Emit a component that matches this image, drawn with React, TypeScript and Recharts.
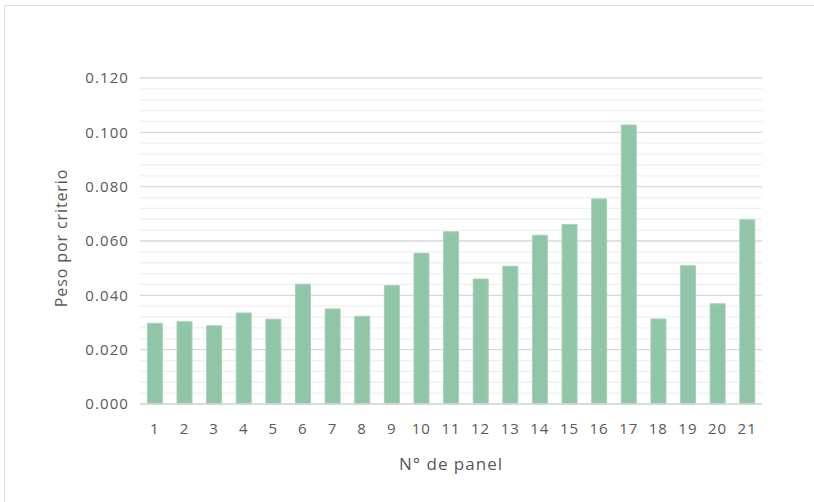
import React from 'react';
import { BarChart, Bar, XAxis, YAxis, CartesianGrid } from 'recharts';

const PANELS = ['1', '2', '3', '4', '5', '6', '7', '8', '9', '10', '11', '12', '13', '14', '15', '16', '17', '18', '19', '20', '21'];
const WEIGHTS = [
  0.0297, 0.0303, 0.0288, 0.0335, 0.0312, 0.0441, 0.035, 0.0323, 0.0436, 0.0555, 0.0634,
  0.046, 0.0507, 0.0621, 0.0661, 0.0755, 0.1027, 0.0313, 0.0509, 0.0369, 0.0678,
];
// every grid line (minor step 0.004); labelled ones are the multiples of 0.02
const GRID_TICKS = [
  0, 0.004, 0.008, 0.012, 0.016, 0.02, 0.024, 0.028, 0.032, 0.036, 0.04, 0.044, 0.048, 0.052,
  0.056, 0.06, 0.064, 0.068, 0.072, 0.076, 0.08, 0.084, 0.088, 0.092, 0.096, 0.1, 0.104, 0.108,
  0.112, 0.116, 0.12,
];
const LABELLED = ['0.000', '0.020', '0.040', '0.060', '0.080', '0.100', '0.120'];

const data = PANELS.map((p, i) => ({ panel: p, peso: WEIGHTS[i] }));

const FONT = '"Open Sans", "Noto Sans", sans-serif';
const TEXT = '#595959';

function YTick({ x = 0, y = 0, payload }: any) {
  const label = payload.value.toFixed(3);
  if (!LABELLED.includes(label)) return null;
  return (
    <text x={x} y={y} dy="0.36em" textAnchor="end" fill={TEXT} fontSize={15} fontFamily={FONT} letterSpacing={1.1}>
      {label}
    </text>
  );
}

function XTick({ x = 0, y = 0, payload }: any) {
  return (
    <text x={x} y={y} dy="0.71em" textAnchor="middle" fill={TEXT} fontSize={15} fontFamily={FONT} letterSpacing={1}>
      {payload.value}
    </text>
  );
}

function GridLine(p: any) {
  const major = p.index % 5 === 0;
  return (
    <line
      key={p.key}
      x1={p.x1}
      x2={p.x2}
      y1={p.y1}
      y2={p.y2}
      stroke={major ? '#d9d9d9' : '#f0f0f0'}
      strokeWidth={major ? 1.3 : 1.3}
    />
  );
}

export default function App() {
  return (
    <div style={{ position: 'absolute', left: 0, top: 0, width: 814, height: 502, overflow: 'hidden', background: '#fff' }}>
      <div
        style={{
          position: 'absolute',
          left: 4,
          top: 5,
          width: 900,
          height: 600,
          borderTop: '1.5px solid #dedede',
          borderLeft: '1.5px solid #dedede',
        }}
      />
      <div style={{ position: 'absolute', left: 0, top: 0 }}>
        <BarChart width={814} height={502} data={data} margin={{ top: 78, right: 52, bottom: 38, left: 0 }} barCategoryGap="25%">
          <CartesianGrid vertical={false} horizontal={GridLine} />
          <XAxis
            dataKey="panel"
            height={60}
            axisLine={{ stroke: '#d9d9d9', strokeWidth: 1.3 }}
            tickLine={false}
            tickSize={0}
            tickMargin={19}
            tick={<XTick />}
            interval={0}
          />
          <YAxis
            width={140}
            domain={[0, 0.12]}
            ticks={GRID_TICKS}
            interval={0}
            axisLine={false}
            tickLine={false}
            tickSize={0}
            tickMargin={11}
            tick={<YTick />}
          />
          <Bar dataKey="peso" fill="#91c5a8" stroke="#a6d1b9" strokeWidth={1} isAnimationActive={false} />
        </BarChart>
      </div>
      <svg width={814} height={502} style={{ position: 'absolute', left: 0, top: 0, pointerEvents: 'none' }}>
        <text x={451} y={470} textAnchor="middle" fill={TEXT} fontSize={17} fontFamily={FONT} letterSpacing={1}>
          N° de panel
        </text>
        <text
          transform="translate(67,238) rotate(-90)"
          textAnchor="middle"
          fill={TEXT}
          fontSize={16}
          fontFamily={FONT}
          letterSpacing={0.9}
        >
          Peso por criterio
        </text>
      </svg>
    </div>
  );
}
